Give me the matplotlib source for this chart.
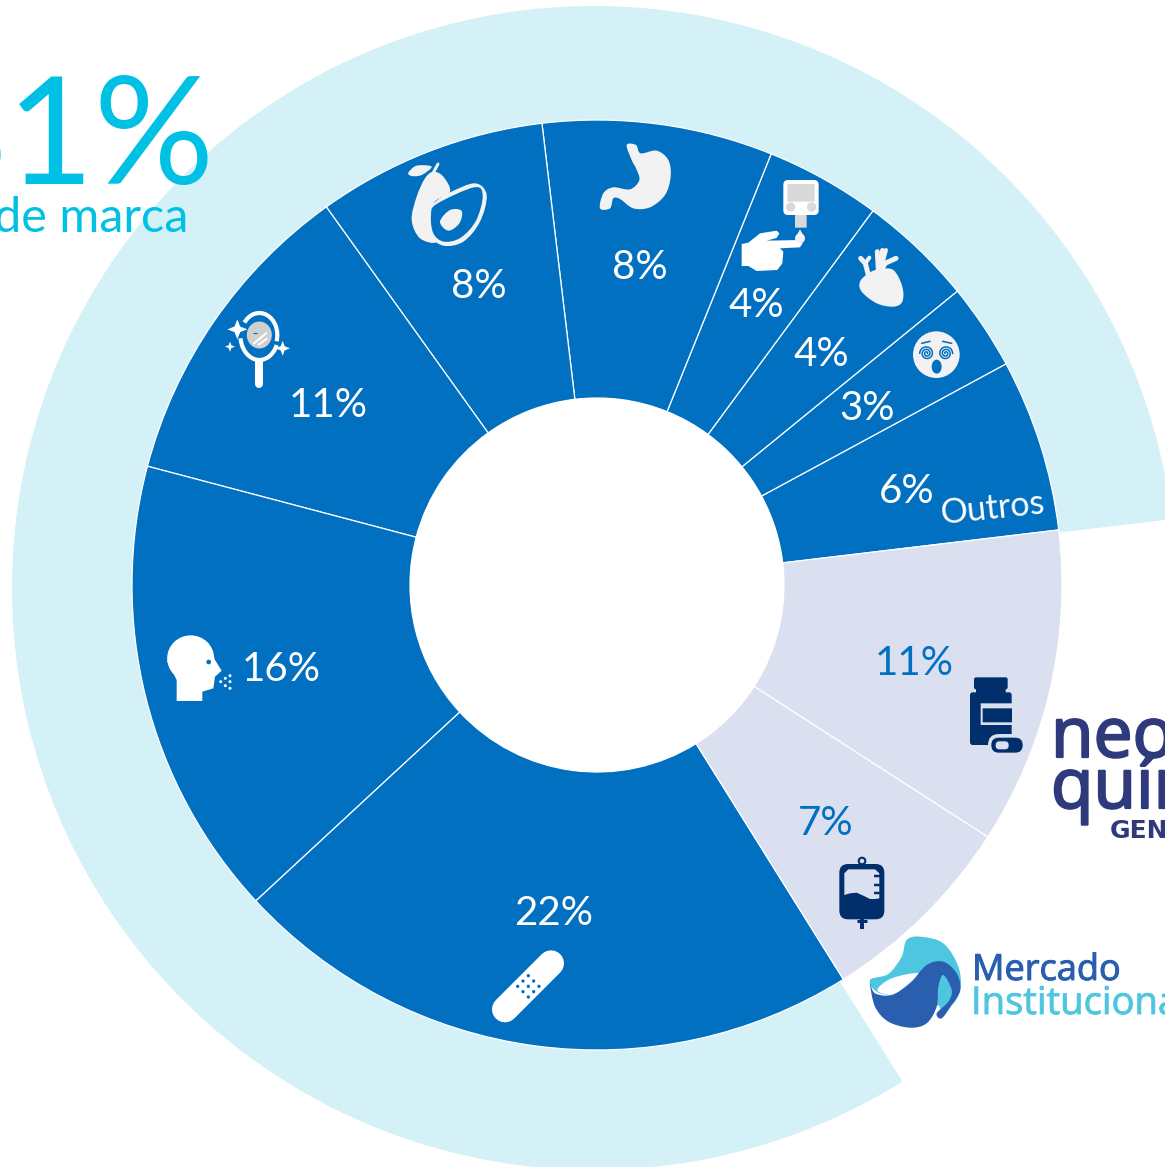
import matplotlib
matplotlib.use("Agg")
import numpy as np
import matplotlib.pyplot as plt
import matplotlib.patheffects as pe
from matplotlib.path import Path
from matplotlib.patches import PathPatch, Circle, Ellipse, FancyBboxPatch, Polygon, Arc

# ---------- data ----------
categories = ["Outros", "Neuro", "Coração", "Diabetes", "Digestivo", "Nutrição",
              "Dermato", "Respiratório", "Dor", "Institucional", "Neo Química"]
shares = [6, 3, 4, 4, 8, 8, 11, 16, 22, 7, 11]
is_brand = [True, True, True, True, True, True, True, True, True, False, False]
headline = "81%"
headline_caption = "de marca"

W, H = 1165, 1167
BLUE = "#0270C1"; RING = "#D3F1F7"; LILAC = "#DBE0F0"; CYAN = "#00C0E4"
OFF = "#F2F2F2"; NAVY = "#002F6C"; LOGO = "#2F3A7D"; MER = "#2A5FAF"; INS = "#4FC6E0"
FONT = ["Lato", "DejaVu Sans"]

fig = plt.figure(figsize=(W / 100, H / 100), dpi=100, facecolor="white")
ax = fig.add_axes([0, 0, 1, 1])

CX, CY = 597, 585
START = 6.8
brand_total = sum(s for s, b in zip(shares, is_brand) if b)

# outer ring (brand share of the market)
ax.pie([brand_total, 100 - brand_total], colors=[RING, "none"], startangle=START,
       center=(594, H - 588), radius=582, wedgeprops=dict(linewidth=0))
ax.pie(shares, colors=[BLUE if b else LILAC for b in is_brand], startangle=START,
       center=(CX, H - CY), radius=465,
       wedgeprops=dict(width=465 - 187, edgecolor="white", linewidth=0.9))
ax.add_patch(Circle((CX, H - CY), 187, fc="white", ec="none", zorder=3))
ax.set_xlim(0, W); ax.set_ylim(0, H); ax.set_aspect("auto"); ax.axis("off")


# ---------- helpers (all in reference pixel coordinates) ----------
def zc(pts, ox, oy):
    return [(ox + x / 3, H - (oy + y / 3)) for x, y in pts]

def blob(pts, color, z=5, smooth=True):
    p = np.array(pts, float)
    n = len(p)
    if not smooth:
        ax.add_patch(Polygon(p, closed=True, fc=color, ec="none", zorder=z))
        return
    verts = [p[0]]; codes = [Path.MOVETO]
    for i in range(n):
        p0, p1, p2, p3 = p[(i - 1) % n], p[i], p[(i + 1) % n], p[(i + 2) % n]
        verts += [p1 + (p2 - p0) / 6, p2 - (p3 - p1) / 6, p2]
        codes += [Path.CURVE4] * 3
    ax.add_patch(PathPatch(Path(verts, codes), fc=color, ec="none", zorder=z))

def circ(x, y, r, color, z=6, ox=0, oy=0):
    ax.add_patch(Circle((ox + x / 3, H - (oy + y / 3)), r / 3, fc=color, ec="none", zorder=z))

def rrect(x0, y0, x1, y1, r, color, z=5, ox=0, oy=0):
    a, b = ox + x0 / 3, H - (oy + y1 / 3)
    w, h = (x1 - x0) / 3, (y1 - y0) / 3
    ax.add_patch(FancyBboxPatch((a + r / 3, b + r / 3), w - 2 * r / 3, h - 2 * r / 3,
                                boxstyle=f"round,pad={r / 3},rounding_size={r / 3}",
                                fc=color, ec="none", zorder=z, mutation_aspect=1))

def line(pts, color, px, z=6, cap="round"):
    xs, ys = zip(*pts)
    ax.plot(xs, ys, color=color, lw=px * 0.72, solid_capstyle=cap, solid_joinstyle="round", zorder=z)

def star(x, y, r, color, ox, oy, z=6):
    cx, cy = ox + x / 3, H - (oy + y / 3)
    r = r / 3; k = r * 0.28
    ax.add_patch(Polygon([(cx, cy + r), (cx + k, cy + k), (cx + r, cy), (cx + k, cy - k),
                          (cx, cy - r), (cx - k, cy - k), (cx - r, cy), (cx - k, cy + k)],
                         closed=True, fc=color, ec="none", zorder=z))

def spiral(x, y, rmax, color, ox, oy, flip=1):
    t = np.linspace(0, 5 * np.pi, 80)
    r = (rmax / 3) * (0.12 + 0.88 * t / t.max())
    ax.plot(ox + x / 3 + flip * r * np.cos(t), H - (oy + y / 3) + r * np.sin(t), color=color, lw=1.1, zorder=7)


# ---------- icons ----------
# avocado
o = (400, 130)
blob(zc([(100, 125), (130, 140), (150, 185), (105, 215), (90, 270), (110, 335), (60, 325), (35, 270), (50, 200), (75, 145)], *o), OFF)
blob(zc([(150, 187), (225, 160), (260, 195), (240, 275), (190, 335), (130, 347), (90, 315), (83, 250), (110, 212)], *o), OFF)
blob(zc([(110, 222), (222, 172), (248, 197), (228, 272), (182, 323), (132, 335), (100, 310), (93, 255)], *o), BLUE, z=6)
blob(zc([(150, 240), (185, 243), (178, 280), (145, 302), (120, 275)], *o), OFF, z=7)
blob(zc([(25, 128), (50, 107), (95, 110), (65, 135), (35, 138)], *o), OFF)
line(zc([(100, 128), (114, 102)], *o), OFF, 3)
# stomach
blob(zc([(680, 45), (708, 45), (722, 70), (770, 62), (805, 90), (812, 140), (795, 195), (750, 232), (700, 235),
         (660, 207), (640, 205), (630, 235), (600, 235), (610, 190), (640, 172), (690, 178), (718, 150), (708, 115), (695, 90)], *o), OFF)
# glucose meter and hand
o = (720, 170)
rrect(190, 30, 296, 135, 14, "white", ox=o[0], oy=o[1])
rrect(202, 42, 284, 95, 2, "#D9D9D9", z=6, ox=o[0], oy=o[1])
circ(212, 111, 14, "#D9D9D9", ox=o[0], oy=o[1]); circ(275, 111, 14, "#D9D9D9", ox=o[0], oy=o[1])
rrect(225, 135, 260, 173, 1, "#D9D9D9", ox=o[0], oy=o[1])
blob(zc([(65, 222), (85, 218), (120, 190), (170, 182), (178, 190), (170, 204), (140, 212), (240, 210), (248, 220), (240, 232), (180, 235),
         (190, 245), (187, 280), (172, 300), (110, 303), (85, 288), (65, 288)], *o), "white", smooth=False)
circ(240, 205, 15, OFF, ox=o[0], oy=o[1], z=7)
blob(zc([(240, 178), (227, 202), (253, 202)], *o), OFF, z=7, smooth=False)
# heart
blob(zc([(445, 310), (475, 298), (520, 300), (547, 350), (547, 395), (520, 410), (470, 400), (425, 365), (420, 335)], *o), OFF)
line(zc([(475, 300), (472, 245)], *o), OFF, 5)
line(zc([(485, 300), (485, 240)], *o), OFF, 5)
line(zc([(482, 300), (498, 240)], *o), OFF, 4)
line(zc([(483, 305), (495, 280), (528, 265)], *o), OFF, 5)
line(zc([(445, 315), (436, 280), (422, 265)], *o), OFF, 5)
line(zc([(436, 280), (448, 263)], *o), OFF, 4)
# dizzy face
circ(649, 554, 70, OFF, ox=o[0], oy=o[1])
spiral(620, 550, 21, BLUE, *o); spiral(677, 550, 21, BLUE, *o, flip=-1)
line(zc([(605, 520), (630, 514)], *o), BLUE, 1.6, z=7)
line(zc([(668, 514), (695, 520)], *o), BLUE, 1.6, z=7)
ax.add_patch(Ellipse((o[0] + 650 / 3, H - (o[1] + 590 / 3)), 10, 14, fc=BLUE, ec="none", zorder=7))
# mirror
o = (150, 300)
mx, my = o[0] + 328 / 3, H - (o[1] + 105 / 3)
ax.add_patch(Ellipse((mx, my), 25, 27, fc="#D0D0D0", ec="none", zorder=6))
ax.add_patch(Arc((mx, my), 36, 44, theta1=-20, theta2=140, color="white", lw=3, zorder=6))
ax.add_patch(Arc((mx, my), 38, 50, theta1=190, theta2=330, color="white", lw=3, zorder=6))
line(zc([(328, 185), (328, 252)], *o), "white", 8)
star(262, 88, 30, "white", *o); star(240, 140, 15, "white", *o); star(398, 145, 22, "white", *o)
line(zc([(308, 100), (322, 100)], *o), BLUE, 1.2, z=7, cap="butt")
line(zc([(310, 132), (350, 98)], *o), "white", 2, z=7, cap="butt")
line(zc([(325, 135), (352, 115)], *o), "white", 2, z=7, cap="butt")
# head
blob(zc([(122, 1008), (175, 1030), (195, 1080), (215, 1112), (195, 1130), (190, 1165), (157, 1175),
         (157, 1203), (80, 1203), (80, 1140), (52, 1085), (70, 1030)], *o), "white", smooth=False)
ax.add_patch(Ellipse((o[0] + 122 / 3, H - (o[1] + 1075 / 3)), 47, 46, fc="white", ec="none", zorder=5))
circ(176, 1086, 7, BLUE, ox=o[0], oy=o[1])
for dx, dy in [(212, 1145), (226, 1135), (240, 1127), (226, 1157), (240, 1145), (240, 1165)]:
    circ(dx, dy, 4.5, "white", ox=o[0], oy=o[1])
# bandage
o = (470, 930)
line(zc([(105, 238), (243, 100)], *o), "white", 26)
for dx, dy in [(175, 137), (159, 153), (191, 153), (143, 169), (175, 169), (207, 169), (159, 185), (191, 185), (175, 201)]:
    circ(dx, dy, 5, BLUE, ox=o[0], oy=o[1])
# pill bottle
o = (950, 660)
rrect(72, 52, 173, 88, 6, NAVY, ox=o[0], oy=o[1])
rrect(78, 85, 167, 100, 1, NAVY, ox=o[0], oy=o[1])
rrect(60, 97, 185, 255, 8, NAVY, ox=o[0], oy=o[1])
rrect(92, 130, 186, 195, 1, LILAC, z=6, ox=o[0], oy=o[1])
rrect(98, 145, 186, 187, 1, NAVY, z=7, ox=o[0], oy=o[1])
rrect(114, 222, 228, 288, 33, LILAC, z=7, ox=o[0], oy=o[1])
rrect(124, 233, 218, 278, 22, NAVY, z=8, ox=o[0], oy=o[1])
rrect(137, 244, 176, 268, 11, LILAC, z=9, ox=o[0], oy=o[1])
# IV bag
o = (820, 850)
ax.add_patch(Circle((o[0] + 126 / 3, H - (o[1] + 33 / 3)), 3.3, fc="none", ec=NAVY, lw=1.5, zorder=5))
rrect(58, 42, 193, 208, 26, NAVY, ox=o[0], oy=o[1])
blob(zc([(73, 70), (85, 58), (165, 58), (178, 70), (178, 145), (165, 147), (150, 147), (130, 137), (110, 128), (90, 130), (73, 135)], *o),
     LILAC, z=6, smooth=False)
for ty in (78, 105, 130):
    line(zc([(163, ty), (180, ty)], *o), NAVY, 2.5, z=7, cap="butt")
line(zc([(126, 205), (126, 238)], *o), NAVY, 4, cap="butt")
line(zc([(111, 212), (141, 212)], *o), NAVY, 3, cap="butt")
# Mercado Institucional mark
blob(zc([(150, 390), (205, 372), (245, 320), (260, 270), (300, 260), (370, 280), (415, 350), (420, 420), (385, 470), (300, 450), (180, 430)], *o), INS)
blob(zc([(172, 420), (215, 385), (295, 370), (255, 410), (215, 435)], *o), "white", z=6)
blob(zc([(150, 400), (165, 430), (215, 435), (270, 400), (320, 345), (370, 335), (410, 370), (421, 420), (395, 465), (365, 505),
         (350, 490), (385, 455), (395, 420), (370, 375), (355, 410), (350, 470), (320, 520), (270, 533), (205, 515), (165, 470)], *o), MER, z=7)
blob(zc([(362, 400), (375, 385), (395, 425), (385, 452), (360, 475)], *o), INS, z=6)


# ---------- text ----------
def thick(color, px):
    return [pe.withStroke(linewidth=px, foreground=color)]

label_xy = [(907, 503), (867, 420), (821, 366), (756, 317), (640, 279), (479, 298),
            (328, 417), (281, 681), (554, 925), (826, 835), (914, 675)]
for v, b, (x, y) in zip(shares, is_brand, label_xy):
    ax.text(x, H - y, f"{v}%", color="white" if b else BLUE, fontsize=29, ha="center", va="baseline",
            family=FONT, zorder=10)
ax.text(992, H - 509, categories[0], color="white", fontsize=24.5, ha="center", va="center", rotation=6,
        family=FONT, zorder=10)
ax.text(215, H - 184, headline, color=CYAN, fontsize=108, ha="right", va="baseline", family=FONT, zorder=10)
ax.text(188, H - 232, headline_caption, color=CYAN, fontsize=35, ha="right", va="baseline", family=FONT, zorder=10)
ax.text(972, H - 980, "Mercado", color=MER, fontsize=26, ha="left", va="baseline", family=["Open Sans"], zorder=10,
        path_effects=thick(MER, 0.7))
ax.text(971, H - 1014, "Institucional", color=INS, fontsize=27.5, ha="left", va="baseline", family=["Open Sans"], zorder=10,
        path_effects=thick(INS, 0.6))
ax.text(1051, H - 757, "neo", color=LOGO, fontsize=50, ha="left", va="baseline", family=["Open Sans"], zorder=10,
        path_effects=thick(LOGO, 1.6))
ax.text(1051, H - 808, "química", color=LOGO, fontsize=50, ha="left", va="baseline", family=["Open Sans"], zorder=10,
        path_effects=thick(LOGO, 1.6))
ax.text(1110, H - 838, "GENÉRICOS", color=LOGO, fontsize=18, ha="left", va="baseline", family=["DejaVu Sans"], weight="bold", zorder=10)

fig.savefig("out.png", dpi=100, facecolor="white")
